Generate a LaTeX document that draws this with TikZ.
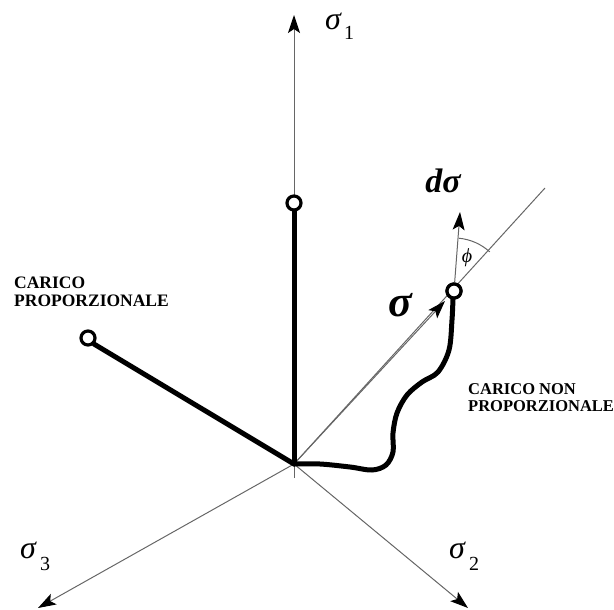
\documentclass[tikz,border=0pt]{standalone}
\usepackage{fontspec}
\setmainfont{Liberation Serif}
\usetikzlibrary{arrows.meta}
\begin{document}
\begin{tikzpicture}[x=1pt,y=-1pt,
  tip/.style={-{Stealth[black,length=18pt,width=12pt,inset=4pt]}},
  axis/.style={draw=black!60, line width=1pt, tip},
  thin/.style={draw=black!60, line width=1pt},
  load/.style={draw=black, line width=5pt, line cap=round},
  endpt/.style={circle, draw=black, line width=3.2pt, fill=white, minimum size=14pt, inner sep=0pt},
  caption/.style={font=\bfseries\fontsize{16.5}{17}\selectfont, align=left, inner sep=0pt, anchor=north west},
  axlabel/.style={font=\itshape\fontsize{32}{32}\selectfont, inner sep=0pt},
  sub/.style={font=\fontsize{20}{20}\selectfont, inner sep=0pt}]
\useasboundingbox (0,0) rectangle (614,610);
% origin and axis ends
\coordinate (O) at (294,464);
\coordinate (s1) at (294,15);
\coordinate (s1b) at (294,478);
\coordinate (s3) at (38,608);
\coordinate (s2) at (468,608);
\coordinate (D) at (545,188);
% axes
\draw[axis] (s1b) -- (s1);
\draw[axis] (O) -- (s3);
\draw[axis] (O) -- (s2);
\draw[thin] (O) -- (D);
% endpoints
\node[endpt] (P1) at (294,203) {};
\node[endpt] (P2) at (88,338) {};
\node[endpt] (P3) at (454,291) {};
% sigma vector arrow tip on diagonal
\coordinate (St) at (445,301);
\draw[draw=black!60, line width=1pt, tip] (O) -- (St);
% proportional loadings
\draw[load] (O) -- (P1.south);
\draw[load] (O) -- (P2.south east);
% non proportional path
\draw[load] plot[smooth, tension=0.55] coordinates {(294,464) (320,464) (350,467) (372,470) (386,465) (393,452) (393,433) (397,413) (407,395) (422,382) (438,372) (449,350) (452,320) (453,298)};
\node[endpt] at (P3) {};
% d sigma arrow
\coordinate (DS) at (460,212);
\draw[draw=black!60, line width=1pt, tip] (P3) -- (DS);
\draw[draw=black!60, line width=1pt] ([shift={(-84.8:53)}]454,291) arc[start angle=-84.8, end angle=-47.6, radius=53];
% labels
\node[font=\itshape\fontsize{20}{20}\selectfont, inner sep=0pt] (phi) at (467,258) {ϕ};
\node[font=\bfseries\itshape\fontsize{34}{34}\selectfont, inner sep=0pt, anchor=base] (dsl) at (443,193) {dσ};
\node[font=\bfseries\itshape\fontsize{44}{44}\selectfont, inner sep=0pt, anchor=base] (sl) at (400,316) {σ};
\node[axlabel, anchor=base] (l1) at (333,30) {σ};
\node[sub, anchor=base] at (349,40) {1};
\node[axlabel, anchor=base] (l3) at (28,558) {σ};
\node[sub, anchor=base] at (45,570) {3};
\node[axlabel, anchor=base] (l2) at (457,558) {σ};
\node[sub, anchor=base] at (474,570) {2};
\node[caption, font=\bfseries\fontsize{17.5}{17.5}\selectfont] (c1) at (14,277) {CARICO\\PROPORZIONALE};
\node[caption] (c2) at (468,383) {CARICO NON\\PROPORZIONALE};
\end{tikzpicture}
\end{document}
